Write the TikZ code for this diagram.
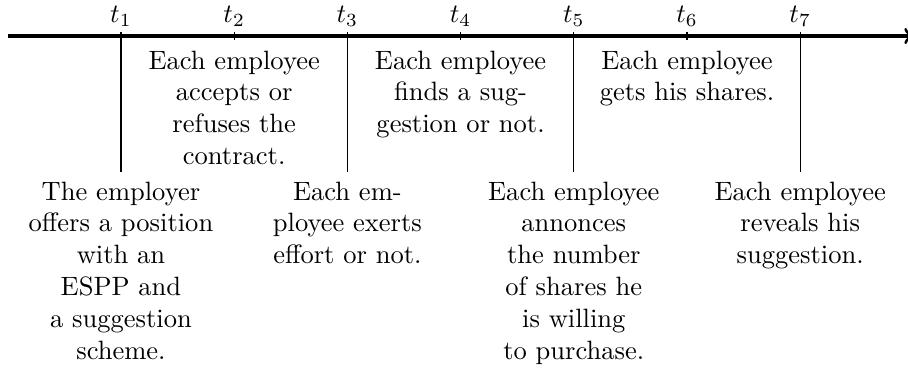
\documentclass[tikz,border=0pt]{standalone}
\usepackage{amsmath}

\tikzset{
  event/.style={align=center},
  tlabel/.style={above}
}

\begin{document}
\begin{tikzpicture}
        \useasboundingbox (0,-4.412) rectangle (12.031,0.477);
        % the dates on the time axis
        \foreach \n in {1,...,7}
        {
          \coordinate (t\n) at ({1.603+1.5*(\n-1)},0);
        }
        \coordinate (start) at (0.106,0);
        \coordinate (end) at (12.1,0);

        % The time axis
        \draw[very thick,->] (start) -- (end);
        % long lines at the odd dates
        \foreach \n in {1,3,5,7}
        {
          \coordinate (u\n) at ({1.603+1.5*(\n-1)},0.053);
          \coordinate (b\n) at ({1.603+1.5*(\n-1)},-1.805);
          \draw (u\n) -- (b\n);
        }
        % short ticks at the even dates
        \foreach \n in {2,4,6}
        {
          \draw ([yshift=1.5pt]t\n) -- ([yshift=-1.5pt]t\n);
        }
        % labels of the dates
        \foreach \n in {1,...,7}
        {
          \node[tlabel] (l\n) at (t\n) {$t_\n$};
        }
        % what happens between the dates
        \foreach \n/\texto in {2/{Each employee\\accepts or\\refuses the\\contract.},
                               4/{Each employee\\finds a sug-\\gestion or not.},
                               6/{Each employee\\gets his shares.}}
        {
          \node[event,anchor=north] (e\n) at ([yshift=-2pt]t\n) {\texto};
        }
        % what happens at the dates
        \foreach \n/\texto in {1/{The employer\\offers a position\\with an\\ESPP and\\a suggestion\\scheme.},
                               3/{Each em-\\ployee exerts\\effort or not.},
                               5/{Each employee\\annonces\\the number\\of shares he\\is willing\\to purchase.},
                               7/{Each employee\\reveals his\\suggestion.}}
        {
          \node[event,below] (e\n) at (b\n) {\texto};
        }
\end{tikzpicture}
\end{document}
